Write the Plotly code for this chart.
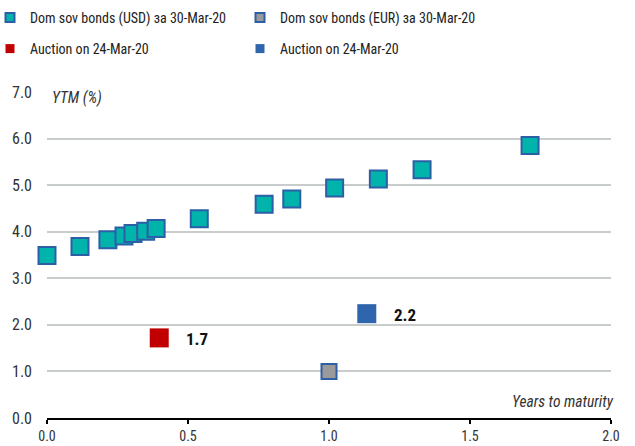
import plotly.graph_objects as go

# Domestic sovereign bonds (USD) on 30-Mar-20: years to maturity vs YTM (%)
usd_years = [0.0, 0.117, 0.216, 0.273, 0.305, 0.35, 0.387, 0.54, 0.77, 0.868, 1.02, 1.175, 1.33, 1.713]
usd_ytm = [3.49, 3.68, 3.83, 3.91, 3.96, 4.01, 4.07, 4.28, 4.59, 4.70, 4.94, 5.13, 5.33, 5.85]

# Domestic sovereign bonds (EUR) on 30-Mar-20
eur_years = [1.0]
eur_ytm = [1.0]

# Auctions on 24-Mar-20
auction_usd_years = [0.398]
auction_usd_ytm = [1.72]
auction_eur_years = [1.134]
auction_eur_ytm = [2.24]

x_ticks = [0.0, 0.5, 1.0, 1.5, 2.0]
y_ticks = [0.0, 1.0, 2.0, 3.0, 4.0, 5.0, 6.0, 7.0]

TEAL = "#00b3ab"
EDGE = "#2d5fa6"
GREY = "#9a9a9a"
RED = "#c00000"
BLUE = "#2e65ad"
FONT = "Liberation Sans Narrow, Roboto Condensed, Arial Narrow, Roboto, sans-serif"

W, H = 635, 446
M_L, M_R, M_T, M_B = 47, 24, 92, 28
PLOT_H = H - M_T - M_B
PLOT_W = W - M_L - M_R

fig = go.Figure()

fig.add_trace(go.Scatter(
    x=usd_years, y=usd_ytm, mode="markers", showlegend=False, cliponaxis=False,
    marker=dict(symbol="square", size=17, color=TEAL, line=dict(color=EDGE, width=2)),
))
fig.add_trace(go.Scatter(
    x=eur_years, y=eur_ytm, mode="markers", showlegend=False,
    marker=dict(symbol="square", size=15, color=GREY, line=dict(color=EDGE, width=2)),
))
fig.add_trace(go.Scatter(
    x=auction_usd_years, y=auction_usd_ytm, mode="markers", showlegend=False,
    marker=dict(symbol="square", size=19, color=RED, line=dict(width=0)),
))
fig.add_trace(go.Scatter(
    x=auction_eur_years, y=auction_eur_ytm, mode="markers", showlegend=False,
    marker=dict(symbol="square", size=19, color=BLUE, line=dict(width=0)),
))

# Legend entries with small symbols, split over two rows
legend_entries = [
    ("Dom sov bonds (USD) за 30-Mar-20", TEAL, EDGE, 2, "legend"),
    ("Dom sov bonds (EUR) за 30-Mar-20", GREY, EDGE, 2, "legend"),
    ("Auction on 24-Mar-20", RED, RED, 0, "legend2"),
    ("Auction on 24-Mar-20", BLUE, BLUE, 0, "legend2"),
]
for name, fill, edge, w, lg in legend_entries:
    fig.add_trace(go.Scatter(
        x=[None], y=[None], mode="markers", name=name, legend=lg,
        marker=dict(symbol="square", size=9, color=fill, line=dict(color=edge, width=w)),
    ))

# Value labels next to the auction markers
for xs, ys in [(auction_usd_years, auction_usd_ytm), (auction_eur_years, auction_eur_ytm)]:
    fig.add_annotation(
        x=xs[0], y=ys[0], text=f"<b>{ys[0]:.1f}</b>", showarrow=False,
        xanchor="left", xshift=25, yshift=-1, font=dict(size=17, color="#111111", family=FONT),
    )

fig.add_annotation(
    x=0, y=7.0, xref="x", yref="y", text="<i>YTM (%)</i>", showarrow=False,
    xanchor="left", yanchor="middle", xshift=0, yshift=-6, bgcolor="white",
    borderpad=4, font=dict(size=15.5, color="#333333", family=FONT),
)
fig.add_annotation(
    x=2.0, y=0, xref="x", yref="y", text="<i>Years to maturity</i>", showarrow=False,
    xanchor="right", yanchor="bottom", xshift=5, yshift=5,
    font=dict(size=15.5, color="#333333", family=FONT),
)

legend_common = dict(
    orientation="h", xref="paper", yref="paper", xanchor="left", yanchor="middle",
    entrywidth=205, entrywidthmode="pixels", bgcolor="rgba(0,0,0,0)",
    font=dict(size=14, color="#222222", family=FONT), itemwidth=30,
)
legend_x = (-10 - M_L) / PLOT_W
fig.update_layout(
    width=W, height=H,
    margin=dict(l=M_L, r=M_R, t=M_T, b=M_B, autoexpand=False),
    plot_bgcolor="white", paper_bgcolor="white",
    font=dict(family=FONT, size=14, color="#333333"),
    legend=dict(x=legend_x, y=(H - M_B - 18) / PLOT_H, **legend_common),
    legend2=dict(x=legend_x, y=(H - M_B - 49) / PLOT_H, **legend_common),
    xaxis=dict(
        range=[0, 2.0], tickvals=x_ticks, ticktext=[f"{v:.1f}" for v in x_ticks],
        showgrid=False, zeroline=False, showline=True, linecolor="black", linewidth=2,
        ticks="outside", ticklen=4, tickwidth=2, tickcolor="black", automargin=False,
        ticklabelstandoff=0, tickfont=dict(size=14, color="#333333"),
    ),
    yaxis=dict(
        range=[0, 7.0], tickvals=y_ticks, ticktext=[f"{v:.1f}" for v in y_ticks],
        showgrid=True, gridcolor="#c9cccc", gridwidth=2, zeroline=False, showline=False,
        ticks="", ticklabelstandoff=14, automargin=False,
        tickfont=dict(size=16, color="#333333"),
    ),
)

fig.write_html("out.html")
